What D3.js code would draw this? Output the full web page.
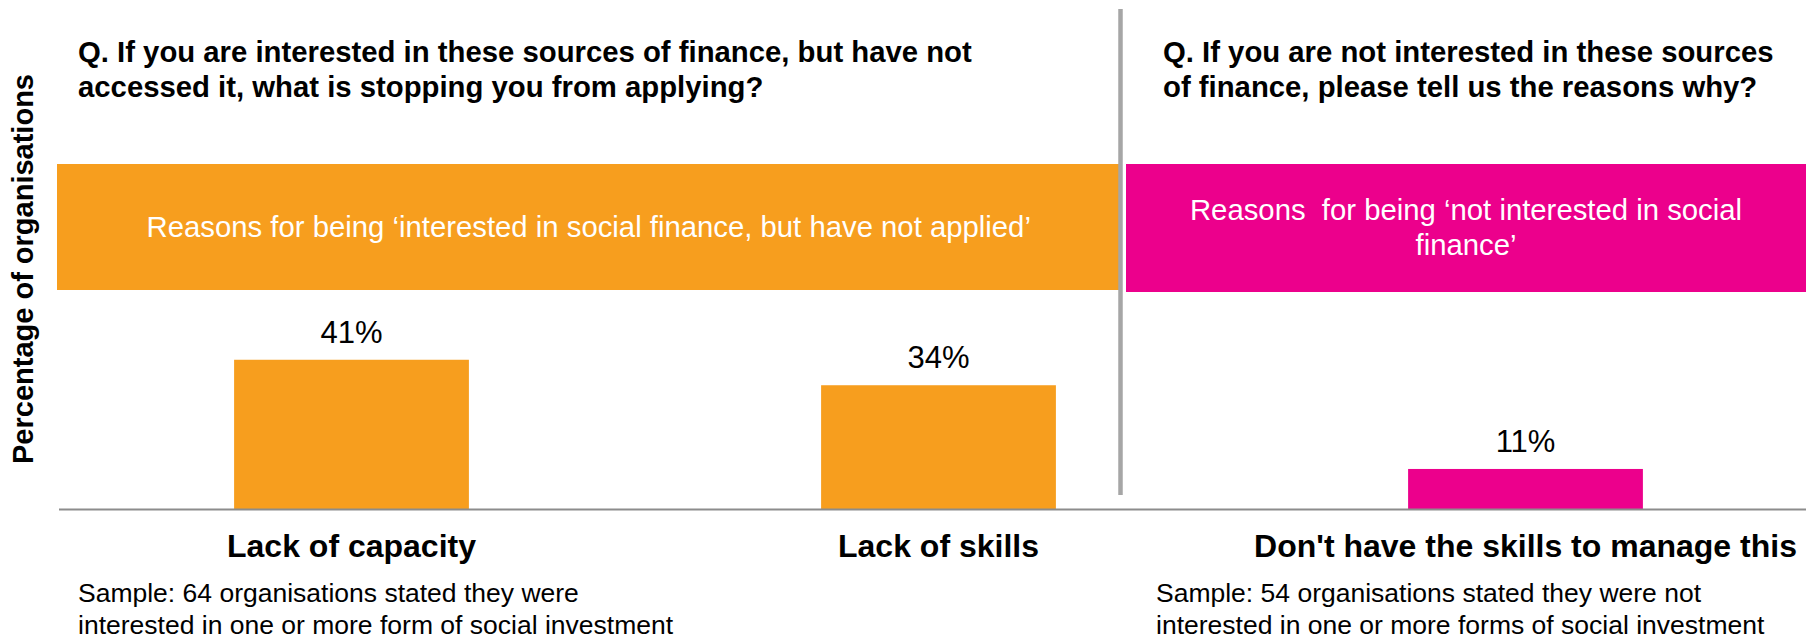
<!DOCTYPE html>
<html>
<head>
<meta charset="utf-8">
<script src="https://cdn.jsdelivr.net/npm/d3@7"></script>
<style>
  html, body { margin: 0; padding: 0; background: #ffffff; }
  svg { display: block; font-family: "Liberation Sans", Arial, sans-serif; }
  svg text { white-space: pre; }
</style>
</head>
<body>
<svg id="chart" width="1806" height="635"></svg>
<script>
// Survey results: barriers to social finance
const categories = ["Lack of capacity", "Lack of skills", "Don't have the skills to manage this"];
const values = [41, 34, 11];
const groups = ["interested", "interested", "notInterested"];
const valueLabels = ["41%", "34%", "11%"];

const questionLeft = ["Q. If you are interested in these sources of finance, but have not",
                      "accessed it, what is stopping you from applying?"];
const questionRight = ["Q. If you are not interested in these sources",
                       "of finance, please tell us the reasons why?"];
const bannerLeft = ["Reasons for being \u2018interested in social finance, but have not applied\u2019"];
const bannerRight = ["Reasons  for being \u2018not interested in social", "finance\u2019"];
const sampleLeft = ["Sample: 64 organisations stated they were",
                    "interested in one or more form of social investment"];
const sampleRight = ["Sample: 54 organisations stated they were not",
                     "interested in one or more forms of social investment"];
const yTitle = "Percentage of organisations";

const colors = { interested: "#F79E1E", notInterested: "#EC008C" };

const svg = d3.select("#chart");
const W = 1806, H = 635;

const baseY = 509;
const x = d3.scaleBand()
  .domain(categories)
  .range([58, 1819])
  .paddingInner(0.6)
  .paddingOuter(0.3);
const y = d3.scaleLinear().domain([0, 100]).range([baseY, baseY - 364]);

const dividerX = 1120.5;

// Panel banners
svg.append("rect").attr("x", 57).attr("y", 164).attr("width", dividerX - 57).attr("height", 126)
  .attr("fill", colors.interested);
svg.append("rect").attr("x", 1126).attr("y", 164).attr("width", W - 1126).attr("height", 128)
  .attr("fill", colors.notInterested);

// Divider between the two questions
svg.append("line").attr("x1", dividerX).attr("x2", dividerX).attr("y1", 9).attr("y2", 495)
  .attr("stroke", "#A6A6A6").attr("stroke-width", 4.5);

function lines(sel, arr, x0, y0, lh, opts) {
  const t = sel.append("text")
    .attr("x", x0).attr("y", y0)
    .attr("font-size", opts.size)
    .attr("font-weight", opts.weight || "normal")
    .attr("fill", opts.fill || "#000")
    .attr("text-anchor", opts.anchor || "start");
  arr.forEach((s, i) => {
    t.append("tspan").attr("x", x0).attr("y", y0 + i * lh).text(s);
  });
  return t;
}

// Questions
lines(svg, questionLeft, 78, 62, 35, { size: 29.3, weight: "bold" });
lines(svg, questionRight, 1163, 62, 35, { size: 29.3, weight: "bold" });

// Banner captions
lines(svg, bannerLeft, (57 + dividerX) / 2, 237, 35, { size: 29.3, fill: "#fff", anchor: "middle" });
lines(svg, bannerRight, (1126 + W) / 2, 220, 35, { size: 29.3, fill: "#fff", anchor: "middle" });

// Bars
svg.append("g").selectAll("rect")
  .data(categories)
  .join("rect")
  .attr("x", d => x(d))
  .attr("width", x.bandwidth())
  .attr("y", (d, i) => y(values[i]))
  .attr("height", (d, i) => y(0) - y(values[i]))
  .attr("fill", (d, i) => colors[groups[i]]);

// Value labels
svg.append("g").selectAll("text")
  .data(categories)
  .join("text")
  .attr("x", d => x(d) + x.bandwidth() / 2)
  .attr("y", (d, i) => y(values[i]) - 17)
  .attr("text-anchor", "middle")
  .attr("font-size", 31)
  .attr("fill", "#000")
  .text((d, i) => valueLabels[i]);

// Category axis
const xAxis = svg.append("g")
  .attr("transform", `translate(0,${baseY})`)
  .call(d3.axisBottom(x).tickSize(0).tickPadding(48));
xAxis.select(".domain").remove();
xAxis.selectAll("text")
  .attr("font-family", "Liberation Sans, Arial, sans-serif")
  .attr("font-size", 32)
  .attr("font-weight", "bold")
  .attr("fill", "#000")
  .attr("dy", 0)
  .attr("y", 48);
svg.append("line").attr("x1", 59).attr("x2", W).attr("y1", baseY + 0.5).attr("y2", baseY + 0.5)
  .attr("stroke", "#8C8C8C").attr("stroke-width", 2);

// Sample notes
lines(svg, sampleLeft, 78, 602, 32, { size: 26.5 });
lines(svg, sampleRight, 1156, 602, 32, { size: 26.5 });

// Vertical axis title
svg.append("text")
  .attr("transform", `translate(33,${(75 + 463) / 2}) rotate(-90)`)
  .attr("text-anchor", "middle")
  .attr("font-size", 29)
  .attr("font-weight", "bold")
  .attr("fill", "#000")
  .text(yTitle);
</script>
</body>
</html>
